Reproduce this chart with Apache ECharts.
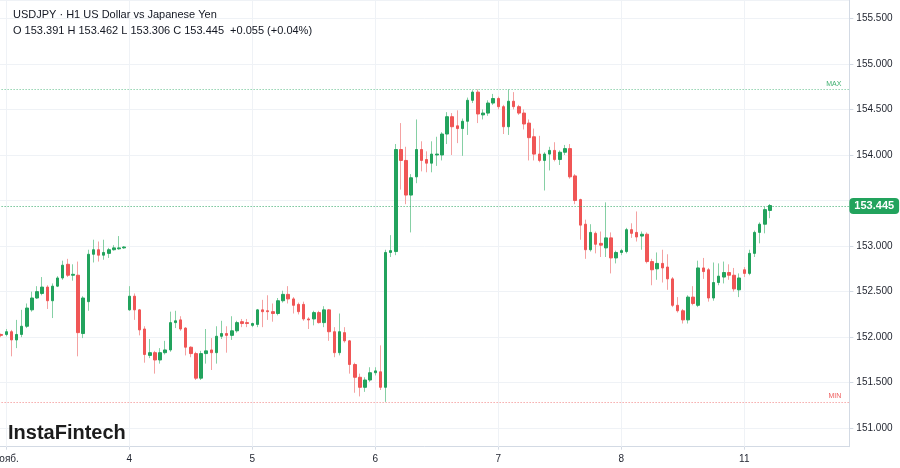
<!DOCTYPE html>
<html><head><meta charset="utf-8">
<script src="https://cdn.jsdelivr.net/npm/echarts@6/dist/echarts.min.js"></script>
<style>html,body{margin:0;padding:0;background:#fff}#c{width:900px;height:468px}</style>
</head><body><div id="c"></div>
<script>
// ---- text ----
const symbolName = 'USDJPY · H1 US Dollar vs Japanese Yen';
const ohlcText = 'O 153.391 H 153.462 L 153.306 C 153.445  +0.055 (+0.04%)';
const logoText = 'InstaFintech';

// ---- time axis: trading days and hours shown ----
const dayKeys   = ['10-31', '11-01', '11-04', '11-05', '11-06', '11-07', '11-08', '11-11'];
const dayLabels = ['',      'нояб.', '4',     '5',     '6',     '7',     '8',     '11'];
const dayFromHour = [23, 0, 0, 0, 0, 0, 0, 0];
const dayToHour   = [23, 23, 23, 23, 23, 23, 23, 5];
const emptySlots = 15; // empty hours on the right of the last bar

// ---- H1 candles ----
const opens = [
152.03,152.03,152.06,151.97,152.03,152.12,152.30,152.43,152.48,152.55,
152.40,152.56,152.65,152.80,152.68,152.68,152.04,152.39,152.91,152.96,
152.90,152.92,152.96,152.97,152.98,
152.30,152.45,152.30,152.09,151.80,151.83,151.75,151.83,151.86,152.16,
152.19,152.10,151.89,151.82,151.55,151.82,151.86,151.83,152.01,152.04,
152.02,152.07,152.17,152.16,152.13,152.14,152.30,152.29,152.28,152.26,
152.40,152.47,152.42,152.36,152.36,152.20,152.20,152.27,152.16,152.30,
152.06,151.83,152.05,151.96,151.70,151.56,151.45,151.53,151.61,151.62,
151.45,152.93,152.94,154.06,153.94,153.56,153.76,154.06,153.95,153.91,
154.00,154.00,154.23,154.42,154.32,154.29,154.37,154.60,154.69,154.44,
154.46,154.57,154.62,154.53,154.31,154.59,154.53,154.46,154.35,154.20,
154.01,153.94,154.01,154.05,153.95,154.03,154.07,153.77,153.51,153.24,
152.96,153.14,153.03,152.98,153.09,152.87,152.93,152.94,153.18,153.15,
153.11,153.13,152.83,152.75,152.81,152.77,152.64,152.35,152.29,152.19,
152.44,152.35,152.76,152.74,152.43,152.60,152.66,152.71,152.68,152.52,
152.74,152.70,152.92,153.15,153.24,153.391];
const closes = [
152.02,152.06,151.97,152.03,152.12,152.32,152.43,152.50,152.55,152.40,
152.56,152.65,152.79,152.68,152.69,152.05,152.43,152.91,152.96,152.90,
152.93,152.96,152.98,152.98,152.99,
152.45,152.30,152.08,151.81,151.83,151.75,151.83,151.86,152.16,152.18,
152.09,151.89,151.82,151.55,151.82,151.85,151.83,152.01,152.04,152.02,
152.07,152.16,152.15,152.15,152.15,152.30,152.28,152.28,152.26,152.40,
152.47,152.42,152.35,152.28,152.20,152.19,152.27,152.16,152.30,152.06,
151.83,152.06,151.96,151.70,151.56,151.45,151.53,151.61,151.63,151.45,
152.93,152.95,154.06,153.94,153.56,153.75,154.06,153.94,153.91,154.01,
154.01,154.23,154.42,154.31,154.29,154.37,154.60,154.69,154.45,154.46,
154.57,154.62,154.53,154.31,154.59,154.53,154.46,154.34,154.19,154.01,
153.94,154.01,154.05,153.95,154.03,154.07,153.76,153.50,153.23,152.96,
153.15,153.02,153.01,153.09,152.87,152.93,152.95,153.18,153.14,153.10,
153.13,152.83,152.74,152.81,152.76,152.64,152.35,152.29,152.19,152.44,
152.37,152.76,152.72,152.43,152.60,152.67,152.71,152.68,152.53,152.65,
152.70,152.92,153.15,153.24,153.40,153.445];
const lows = [
152.00,152.01,151.79,151.88,152.00,152.10,152.28,152.42,152.46,152.31,
152.21,152.55,152.63,152.66,152.62,151.79,151.99,152.29,152.82,152.83,
152.85,152.87,152.95,152.96,152.97,
152.29,152.19,152.02,151.72,151.77,151.60,151.71,151.81,151.84,152.10,
152.07,151.80,151.78,151.53,151.53,151.71,151.64,151.71,151.98,151.83,
151.97,152.05,152.11,152.11,152.11,152.11,152.11,152.19,152.17,152.24,
152.38,152.37,152.26,152.25,152.18,152.09,152.13,152.15,152.11,151.96,
151.78,151.80,151.94,151.60,151.39,151.35,151.40,151.51,151.58,151.42,
151.29,152.88,152.90,153.62,153.46,153.15,153.69,153.82,153.81,153.81,
153.88,153.94,154.12,154.00,154.13,153.99,154.22,154.57,154.35,154.39,
154.43,154.55,154.50,154.23,154.22,154.50,154.44,154.28,153.94,153.94,
153.92,153.61,153.83,153.93,153.89,154.00,153.74,153.46,153.07,152.86,
152.94,152.92,152.88,152.88,152.70,152.81,152.90,152.92,153.09,153.05,
152.96,152.81,152.57,152.63,152.60,152.52,152.33,152.27,152.15,152.15,
152.35,152.33,152.64,152.39,152.40,152.57,152.59,152.63,152.50,152.44,
152.66,152.68,152.88,153.03,153.14,153.306];
const highs = [
152.04,152.09,152.08,152.19,152.30,152.37,152.50,152.56,152.66,152.57,
152.59,152.67,152.84,152.86,152.80,152.83,152.45,152.96,153.07,153.05,
153.07,152.98,153.01,153.11,153.00,
152.56,152.48,152.31,152.12,151.98,151.85,151.88,151.96,152.28,152.29,
152.23,152.11,151.90,151.84,151.85,152.09,151.99,152.12,152.18,152.12,
152.23,152.18,152.20,152.20,152.16,152.31,152.41,152.46,152.37,152.43,
152.51,152.56,152.44,152.38,152.39,152.22,152.29,152.29,152.34,152.31,
152.11,152.26,152.11,151.97,151.72,151.60,151.56,151.67,151.67,151.91,
152.96,153.12,154.12,154.35,154.09,153.79,154.39,154.15,154.04,154.15,
154.20,154.25,154.47,154.46,154.49,154.40,154.63,154.71,154.72,154.50,
154.60,154.67,154.64,154.55,154.72,154.69,154.55,154.50,154.39,154.29,
154.21,154.03,154.09,154.14,154.05,154.11,154.12,153.79,153.52,153.29,
153.24,153.16,153.16,153.48,153.15,152.95,152.97,153.20,153.25,153.38,
153.16,153.15,152.86,152.93,152.96,152.91,152.66,152.44,152.31,152.46,
152.56,152.84,152.87,152.76,152.82,152.81,152.83,152.80,152.76,152.70,
152.77,152.96,153.17,153.26,153.43,153.462];
const lastPrice = 153.445;

// ---- build categories ----
const categories = [];
const dayStartCats = [];
const labelByCat = {};
dayKeys.forEach((d, i) => {
  for (let h = dayFromHour[i]; h <= dayToHour[i]; h++) {
    const c = d + ' ' + String(h).padStart(2, '0');
    categories.push(c);
    if (h === 0) { dayStartCats.push(c); labelByCat[c] = dayLabels[i]; }
  }
});
for (let i = 0; i < emptySlots; i++) categories.push('pad' + i);

const candleData = opens.map((o, i) => [o, closes[i], lows[i], highs[i]]);
const bodyData = opens.map((o, i) => [o, closes[i], Math.min(o, closes[i]), Math.max(o, closes[i])]);
const maxHigh = Math.max(...highs);
const minLow = Math.min(...lows);

const FONT = '"Liberation Sans", Arial, sans-serif';
const UP = '#22a35d', DOWN = '#f05656';
const UP_WICK = '#86d0a5', DOWN_WICK = '#f4a2a2';
const GRID = '#eff2f6', AXIS = '#d3dae4', TEXT = '#1e222d';

const chart = echarts.init(document.getElementById('c'), null, {renderer: 'canvas'});
chart.setOption({
  animation: false,
  backgroundColor: '#ffffff',
  textStyle: {fontFamily: FONT},
  title: {
    text: symbolName, subtext: ohlcText, left: 8, top: 3, itemGap: 3,
    textStyle: {fontSize: 11, fontWeight: 'normal', color: '#131722', fontFamily: FONT, lineHeight: 13},
    subtextStyle: {fontSize: 11, color: '#131722', fontFamily: FONT, lineHeight: 13}
  },
  graphic: [{
    type: 'text', left: 8, top: 423, z: 10,
    style: {text: logoText, font: '600 20px "Liberation Sans", Arial, sans-serif', fill: '#1c1c1c'}
  }],
  grid: {left: -1.39, right: 50.64, top: 0, bottom: 21.3, containLabel: false, outerBoundsMode: 'none'},
  xAxis: {
    type: 'category', data: categories, boundaryGap: true,
    axisLine: {show: true, lineStyle: {color: AXIS}},
    axisTick: {show: true, alignWithLabel: true, length: 3, lineStyle: {color: AXIS},
      interval: (idx, val) => labelByCat[val] !== undefined},
    axisLabel: {
      interval: (idx, val) => labelByCat[val] !== undefined,
      formatter: (val) => labelByCat[val] || '',
      fontSize: 10, color: TEXT, margin: 8, fontFamily: FONT
    },
    splitLine: {show: false}
  },
  yAxis: {
    type: 'value', position: 'right', min: 150.798, max: 155.701,
    splitNumber: 10, minInterval: 0.5, maxInterval: 0.5,
    axisLine: {show: true, lineStyle: {color: AXIS}},
    axisTick: {show: true, length: 4, lineStyle: {color: AXIS}},
    axisLabel: {
      showMinLabel: false, showMaxLabel: false, margin: 7, fontSize: 10, color: TEXT, fontFamily: FONT,
      formatter: (v) => (Math.abs(v - 153.5) < 1e-6 ? '' : v.toFixed(3))
    },
    splitLine: {show: true, lineStyle: {color: GRID, width: 1}}
  },
  series: [
    {
      type: 'line', data: [], silent: true, z: 1,
      markLine: {
        silent: true, symbol: ['none', 'none'], z: 1, animation: false,
        label: {show: false},
        lineStyle: {color: GRID, type: 'solid', width: 1},
        data: dayStartCats.map(c => ({xAxis: c}))
      }
    },
    {
      name: 'wick', type: 'candlestick', data: candleData, barWidth: 1, z: 2, silent: true,
      itemStyle: {color: UP_WICK, color0: DOWN_WICK, borderColor: UP_WICK, borderColor0: DOWN_WICK, borderWidth: 1}
    },
    {
      name: 'body', type: 'candlestick', data: bodyData, barWidth: 3, z: 3, silent: true,
      itemStyle: {color: UP, color0: DOWN, borderColor: UP, borderColor0: DOWN, borderWidth: 1},
      markLine: {
        silent: true, symbol: ['none', 'none'], animation: false, z: 4,
        data: [
          {yAxis: maxHigh, lineStyle: {color: '#5fbf8a', type: [1, 2], width: 1},
           label: {show: true, position: 'insideEndTop', formatter: 'MAX', fontSize: 7, color: '#3daf6e', distance: [8, 2], fontFamily: FONT}},
          {yAxis: minLow, lineStyle: {color: '#f28080', type: [1, 2], width: 1},
           label: {show: true, position: 'insideEndTop', formatter: 'MIN', fontSize: 7, color: '#ef5a5a', distance: [8, 2], fontFamily: FONT}},
          {yAxis: lastPrice, lineStyle: {color: '#30a866', type: [1, 2], width: 1},
           label: {show: true, position: 'end', distance: 0, formatter: () => lastPrice.toFixed(3),
             backgroundColor: UP, color: '#ffffff', fontWeight: 'bold', fontSize: 11, fontFamily: FONT,
             padding: [3, 5, 2, 5], borderRadius: 4}}
        ]
      }
    }
  ]
});
</script></body></html>
